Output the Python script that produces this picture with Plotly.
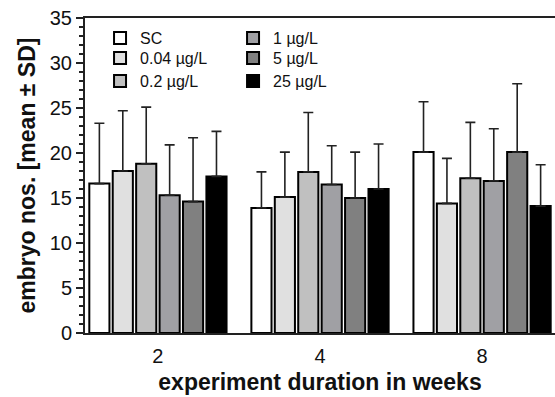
import plotly.graph_objects as go

weeks = ["2", "4", "8"]
groups = ["SC", "0.04 µg/L", "0.2 µg/L", "1 µg/L", "5 µg/L", "25 µg/L"]
mean_sc = [16.6, 13.9, 20.1]
mean_004 = [18.0, 15.1, 14.4]
mean_02 = [18.8, 17.9, 17.2]
mean_1 = [15.3, 16.5, 16.9]
mean_5 = [14.6, 15.0, 20.1]
mean_25 = [17.4, 16.0, 14.1]
sd_sc = [6.7, 4.0, 5.6]
sd_004 = [6.7, 5.0, 5.0]
sd_02 = [6.3, 6.6, 6.2]
sd_1 = [5.6, 4.3, 5.8]
sd_5 = [7.1, 5.1, 7.6]
sd_25 = [5.0, 5.0, 4.6]
yticks = [0, 5, 10, 15, 20, 25, 30, 35]

means = [mean_sc, mean_004, mean_02, mean_1, mean_5, mean_25]
sds = [sd_sc, sd_004, sd_02, sd_1, sd_5, sd_25]
colors = ["#ffffff", "#e0e0e0", "#c0c0c0", "#a0a0a4", "#808080", "#000000"]
legend_ids = ["legend", "legend2", "legend3", "legend4", "legend5", "legend6"]
legend_x = [0.032, 0.032, 0.032, 0.315, 0.315, 0.315]
legend_y = [0.99, 0.927, 0.854, 0.99, 0.927, 0.854]

fig = go.Figure()
for name, m, s, c, lg in zip(groups, means, sds, colors, legend_ids):
    fig.add_trace(go.Bar(
        x=weeks, y=m, name=name, legend=lg,
        marker=dict(color=c, line=dict(color="#000000", width=2)),
        error_y=dict(type="data", array=s, arrayminus=[0] * len(s), symmetric=False,
                     color="#222222", thickness=1.6, width=5),
    ))

layout_legends = {}
for lg, lx, ly in zip(legend_ids, legend_x, legend_y):
    layout_legends[lg] = dict(x=lx, y=ly, xanchor="left", yanchor="top",
                              bgcolor="rgba(0,0,0,0)", font=dict(size=16))

fig.update_layout(
    width=555, height=397,
    margin=dict(l=85, r=0, t=18, b=64, autoexpand=False),
    paper_bgcolor="white", plot_bgcolor="white",
    barmode="group", bargap=0.133, bargroupgap=0.14,
    font=dict(family="Liberation Sans, Arial, sans-serif", color="#111111"),
    xaxis=dict(
        type="category", range=[-0.45, 2.45], automargin=False,
        showline=True, linecolor="#222222", linewidth=2, mirror=True,
        ticks="", tickfont=dict(size=20), ticklabelstandoff=4,
        title=dict(text="<b>experiment duration in weeks</b>", font=dict(size=23), standoff=8),
        showgrid=False, zeroline=False,
    ),
    yaxis=dict(
        range=[0, 35], tickvals=yticks, ticktext=[str(v) for v in yticks], automargin=False,
        showline=True, linecolor="#222222", linewidth=2,
        ticks="outside", ticklen=7, tickwidth=1.5, tickcolor="#222222",
        minor=dict(dtick=1, ticks="outside", ticklen=4, tickwidth=1.5, tickcolor="#222222"),
        tickfont=dict(size=20),
        title=dict(text="<b>embryo nos. [mean ± SD]</b>", font=dict(size=23), standoff=8),
        showgrid=False, zeroline=False,
    ),
    showlegend=True,
    **layout_legends,
)

fig.write_html("out.html", config={"displayModeBar": False},
               post_script="document.body.style.margin='0';")
